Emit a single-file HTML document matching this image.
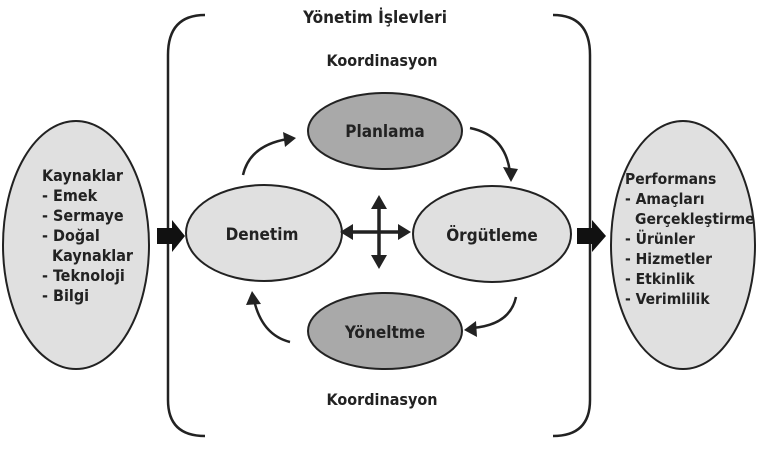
<!DOCTYPE html>
<html><head><meta charset="utf-8"><style>
body{margin:0;background:#fff}
text{font-family:"DejaVu Sans Condensed","DejaVu Sans","Liberation Sans",sans-serif;font-weight:bold;fill:#222}
</style></head><body>
<svg width="760" height="446" viewBox="0 0 760 446" xmlns="http://www.w3.org/2000/svg">
<path d="M205,15 Q168,15 168,55 L168,400 Q168,436 205,436" fill="none" stroke="#222" stroke-width="2.5"/>
<path d="M553,15 Q590,15 590,55 L590,400 Q590,436 553,436" fill="none" stroke="#222" stroke-width="2.5"/>
<text x="375" y="23" text-anchor="middle" style="font-size:17px">Yönetim İşlevleri</text>
<text x="382" y="66" text-anchor="middle" style="font-size:16px">Koordinasyon</text>
<text x="382" y="405" text-anchor="middle" style="font-size:16px">Koordinasyon</text>
<ellipse cx="76" cy="245" rx="73" ry="124" fill="#e0e0e0" stroke="#222" stroke-width="2"/>
<ellipse cx="683" cy="245" rx="72" ry="124" fill="#e0e0e0" stroke="#222" stroke-width="2"/>
<g>
<text x="42" y="181" style="font-size:16px">Kaynaklar</text>
<text x="42" y="201" style="font-size:16px">- Emek</text>
<text x="42" y="221" style="font-size:16px">- Sermaye</text>
<text x="42" y="241" style="font-size:16px">- Doğal</text>
<text x="52" y="261" style="font-size:16px">Kaynaklar</text>
<text x="42" y="281" style="font-size:16px">- Teknoloji</text>
<text x="42" y="301" style="font-size:16px">- Bilgi</text>
<text x="625" y="184" style="font-size:15.5px">Performans</text>
<text x="625" y="204" style="font-size:15.5px">- Amaçları</text>
<text x="635" y="224" style="font-size:15.5px">Gerçekleştirme</text>
<text x="625" y="244" style="font-size:15.5px">- Ürünler</text>
<text x="625" y="264" style="font-size:15.5px">- Hizmetler</text>
<text x="625" y="284" style="font-size:15.5px">- Etkinlik</text>
<text x="625" y="304" style="font-size:15.5px">- Verimlilik</text>
</g>
<path d="M157,228 L172,228 L172,220 L185,236 L172,252 L172,244 L157,244 Z" fill="#111"/>
<path d="M577,228 L592,228 L592,220 L606,236 L592,252 L592,244 L577,244 Z" fill="#111"/>
<ellipse cx="385" cy="131" rx="77" ry="38" fill="#a9a9a9" stroke="#222" stroke-width="2"/>
<ellipse cx="385" cy="331" rx="77" ry="38" fill="#a9a9a9" stroke="#222" stroke-width="2"/>
<ellipse cx="264" cy="233" rx="78" ry="48" fill="#e0e0e0" stroke="#222" stroke-width="2"/>
<ellipse cx="492" cy="234" rx="79" ry="48" fill="#e0e0e0" stroke="#222" stroke-width="2"/>
<text x="385" y="137" text-anchor="middle" style="font-size:17px">Planlama</text>
<text x="385" y="338" text-anchor="middle" style="font-size:17px">Yöneltme</text>
<text x="262" y="240" text-anchor="middle" style="font-size:17px">Denetim</text>
<text x="492" y="241" text-anchor="middle" style="font-size:17px">Örgütleme</text>
<g stroke="#222" stroke-width="3.5" fill="none">
<line x1="350" y1="232" x2="400" y2="232"/>
<line x1="379" y1="206" x2="379" y2="258"/>
</g>
<path d="M340,232 L353,224 L353,240Z M411,232 L398,224 L398,240Z M379,195 L371,209 L387,209Z M379,269 L371,255 L387,255Z" fill="#222"/>
<g stroke="#222" stroke-width="2.5" fill="none">
<path d="M243,175 Q250,145 288,139"/>
<path d="M470,128 Q505,135 510,172"/>
<path d="M516,297 Q510,325 472,328"/>
<path d="M290,342 Q262,335 254,300"/>
</g>
<path d="M296,138 L283,132 L285,147Z M511,182 L503,167 L518,169Z M464,330 L476,321 L477,337Z M252,291 L246,305 L261,304Z" fill="#222"/>
</svg>
</body></html>
